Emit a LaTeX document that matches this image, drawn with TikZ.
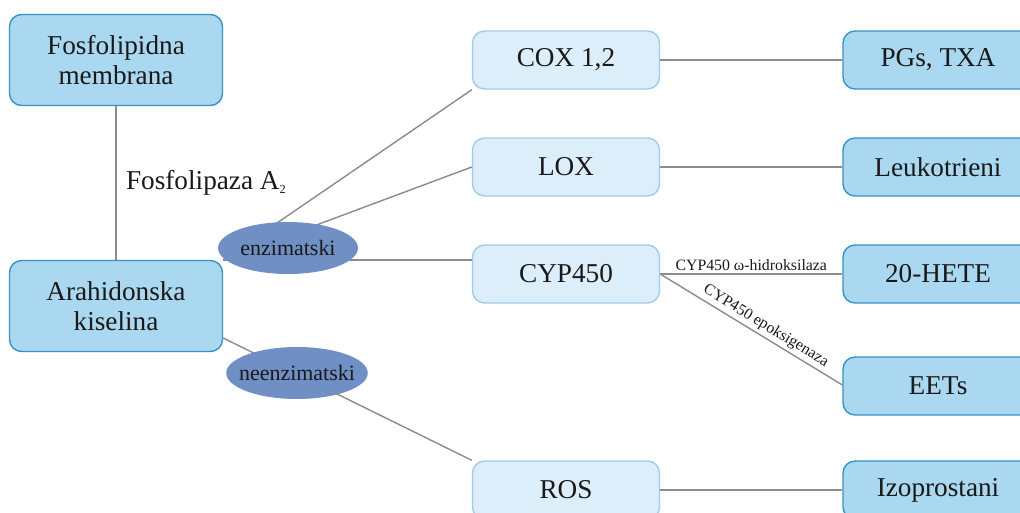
\documentclass[tikz,border=0pt]{standalone}
\usepackage{fontspec}
\setmainfont{Liberation Serif}
\usetikzlibrary{shapes.geometric}
\definecolor{darkfill}{RGB}{170,216,240}
\definecolor{darkline}{RGB}{52,148,196}
\definecolor{lightfill}{RGB}{220,238,250}
\definecolor{lightline}{RGB}{160,204,232}
\definecolor{ovalfill}{RGB}{112,143,196}
\definecolor{linkgray}{RGB}{140,140,140}
\begin{document}
\begin{tikzpicture}[x=0.02cm, y=-0.02cm]
        \tikzstyle{bigbox} = [draw=darkline, fill=darkfill, thick, rounded corners=0.24cm, minimum width=4.26cm, minimum height=1.82cm, align=center, font=\fontsize{15.5}{17}\selectfont, text=black!90]
        \tikzstyle{endbox} = [draw=darkline, fill=darkfill, thick, rounded corners=0.24cm, minimum width=3.8cm, minimum height=1.16cm, font=\fontsize{15.5}{17}\selectfont, text=black!90]
        \tikzstyle{midbox} = [draw=lightline, fill=lightfill, thick, rounded corners=0.24cm, minimum width=3.74cm, minimum height=1.16cm, font=\fontsize{15.5}{17}\selectfont, text=black!90]
        \tikzstyle{oval} = [ellipse, fill=ovalfill, minimum width=2.8cm, minimum height=1.04cm, inner xsep=-4.5pt, inner ysep=0pt, font=\fontsize{12.5}{14}\selectfont, text=black!90]
        \tikzstyle{blk} = [draw, linkgray, thick]
        \tikzstyle{lbl} = [font=\fontsize{9}{10}\selectfont, text=black!90, inner sep=1.5pt]

        \useasboundingbox (0, 0) rectangle (1020, 513);
        \fill[white] (0, 0) rectangle (1020, 513);

        \node[bigbox] (membrana) at (116, 60) {Fosfolipidna\\membrana};
        \node[bigbox] (kiselina) at (116, 306) {Arahidonska\\kiselina};

        \node[midbox] (cox) at (566, 60) {COX 1,2};
        \node[midbox] (lox) at (566, 167) {LOX};
        \node[midbox] (cyp) at (566, 274) {CYP450};
        \node[midbox] (ros) at (566, 490) {ROS};

        \node[endbox] (pgs) at (938, 60) {PGs, TXA};
        \node[endbox] (leuko) at (938, 167) {Leukotrieni};
        \node[endbox] (hete) at (938, 274) {20-HETE};
        \node[endbox] (eets) at (938, 386) {EETs};
        \node[endbox] (izo) at (938, 490) {Izoprostani};

        \path[blk] (membrana) to node[right, font=\fontsize{15.5}{17}\selectfont, text=black!90, xshift=2pt] {Fosfolipaza A\textsubscript{\scriptsize 2}} (kiselina);
        \path[blk] (kiselina.north east) to (cox.south west);
        \path[blk] (kiselina.north east) to (lox.west);
        \path[blk] (kiselina.north east) to (cyp.west |- kiselina.north east);
        \path[blk] (kiselina.east |- 0, 338) to (ros.north west);

        \path[blk] (cox) to (pgs);
        \path[blk] (lox) to (leuko);
        \path[blk] (cyp) to node[lbl, above] {CYP450 ω-hidroksilaza} (hete);
        \path[blk] (cyp.east) to node[lbl, above, sloped, pos=0.55] {CYP450 epoksigenaza} (eets.west |- 0, 385);
        \path[blk] (ros) to (izo);

        \node[oval] (enz) at (288, 248) {enzimatski};
        \node[oval] (neenz) at (297, 373) {neenzimatski};
    \end{tikzpicture}
\end{document}
